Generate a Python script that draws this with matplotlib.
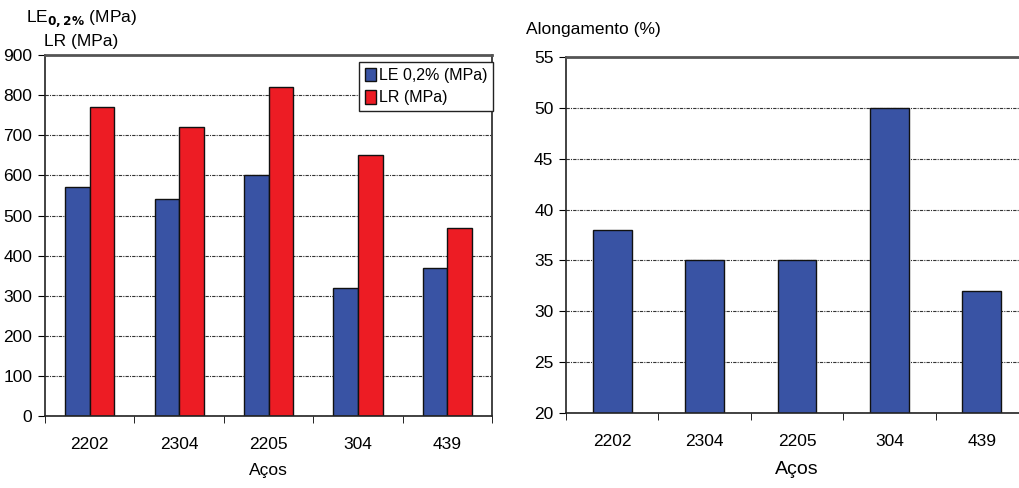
import matplotlib.pyplot as plt
import numpy as np

plt.rcParams['font.family'] = ['Liberation Sans', 'DejaVu Sans']

acos = ['2202', '2304', '2205', '304', '439']
le_02 = [570, 540, 600, 320, 370]
lr = [770, 720, 820, 650, 470]
alongamento = [38, 35, 35, 50, 32]

azul = '#3953a4'
vermelho = '#ed1c24'
grade = dict(color='#333333', linestyle=(0, (3, 1, 1, 1)), linewidth=0.8)
fs = 12.5


def estilo_eixo(ax):
    ax.tick_params(axis='y', direction='out', length=5, labelsize=fs, pad=4)
    ax.tick_params(axis='x', which='major', length=0, labelsize=fs, pad=15)
    ax.tick_params(axis='x', which='minor', direction='out', length=5)
    ax.set_xticks(np.arange(len(acos)))
    ax.set_xticklabels(acos)
    ax.set_xticks(np.arange(len(acos) + 1) - 0.5, minor=True)
    ax.set_xlim(-0.5, len(acos) - 0.5)
    ax.set_axisbelow(True)
    ax.yaxis.grid(True, **grade)
    for s in ax.spines.values():
        s.set_linewidth(1.2)
        s.set_color('#222222')
    ax.spines['top'].set_color('#555555')
    ax.spines['top'].set_linewidth(2)


fig = plt.figure(figsize=(10.2, 4.88), dpi=100)

# resistencia mecanica
ax1 = fig.add_axes([0.0441, 0.1475, 0.4383, 0.7395])
x = np.arange(len(acos))
w = 0.275
ax1.bar(x - w / 2, le_02, w, color=azul, edgecolor='#111111', linewidth=1, label='LE 0,2% (MPa)')
ax1.bar(x + w / 2, lr, w, color=vermelho, edgecolor='#111111', linewidth=1, label='LR (MPa)')
ax1.set_ylim(0, 900)
ax1.set_yticks(range(0, 901, 100))
estilo_eixo(ax1)
ax1.set_xlabel('Aços', fontsize=fs, labelpad=8)
leg = ax1.legend(loc='upper right', bbox_to_anchor=(1.003, 0.98), fontsize=11.5,
                 frameon=True, fancybox=False, edgecolor='#222222', framealpha=1,
                 handlelength=0.7, handleheight=0.9, handletextpad=0.2,
                 borderpad=0.35, labelspacing=0.45, borderaxespad=0)
leg.get_frame().set_linewidth(1)
fig.text(0.080, 0.963, r'LE$_{\mathbf{0,2\%}}$ (MPa)', ha='center', va='center', fontsize=fs)
fig.text(0.080, 0.915, 'LR (MPa)', ha='center', va='center', fontsize=fs)

# alongamento
ax2 = fig.add_axes([0.5549, 0.1537, 0.4529, 0.7295])
ax2.bar(x, alongamento, 0.42, color=azul, edgecolor='#111111', linewidth=1)
ax2.set_ylim(20, 55)
ax2.set_yticks(range(20, 56, 5))
estilo_eixo(ax2)
ax2.spines['right'].set_visible(False)
ax2.set_xlabel('Aços', fontsize=14, labelpad=9)
fig.text(0.516, 0.94, 'Alongamento (%)', ha='left', va='center', fontsize=fs)

fig.savefig('out.png', dpi=100)
